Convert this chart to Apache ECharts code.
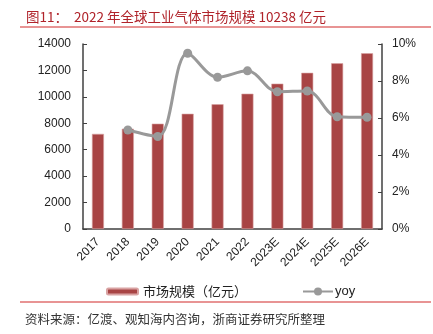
<!DOCTYPE html>
<html>
<head>
<meta charset="utf-8">
<script src="https://cdn.jsdelivr.net/npm/echarts@6/dist/echarts.min.js"></script>
<style>html,body{margin:0;padding:0;background:#fff}#c{width:433px;height:334px}</style>
</head>
<body>
<div id="c"></div>
<script>
const categories = ['2017','2018','2019','2020','2021','2022','2023E','2024E','2025E','2026E'];
const marketSize = [7200, 7590, 7970, 8720, 9440, 10238, 11000, 11820, 12540, 13300];
const yoy = [null, 5.35, 5.0, 9.5, 8.2, 8.55, 7.42, 7.46, 6.07, 6.04];
const leftTicks = [0, 14000, 2000];
const rightTicks = [0, 10, 2];
const titleText = '图11：  2022 年全球工业气体市场规模 10238 亿元';
const sourceText = '资料来源：亿渡、观知海内咨询，浙商证券研究所整理';
const barName = '市场规模（亿元）';
const lineName = 'yoy';

const chart = echarts.init(document.getElementById('c'), null, {renderer: 'canvas'});
const latin = 'Liberation Sans, Arial, sans-serif';
const cjk = '"Noto Sans CJK SC", sans-serif';
chart.setOption({
  animation: false,
  title: [
    {text: titleText, left: 21, top: 5, textStyle: {fontFamily: cjk, fontSize: 13.5, fontWeight: 'normal', color: '#B0232A'}},
    {text: sourceText, left: 20, top: 308, textStyle: {fontFamily: cjk, fontSize: 12.5, fontWeight: 'normal', color: '#333'}}
  ],
  graphic: [
    {type: 'line', shape: {x1: 20, y1: 27, x2: 431, y2: 27}, style: {stroke: '#E07070', lineWidth: 1.5}},
    {type: 'line', shape: {x1: 20, y1: 302, x2: 431, y2: 302}, style: {stroke: '#E07070', lineWidth: 1.5}}
  ],
  grid: {left: 83, right: 51, top: 44, bottom: 105, containLabel: false},
  legend: [
    {data: [barName], left: 101, top: 280, itemWidth: 31, itemHeight: 6, itemGap: 5,
     textStyle: {fontFamily: cjk, fontSize: 13, color: '#222'}},
    {data: [lineName], left: 297, top: 280, itemWidth: 30, itemHeight: 10,
     textStyle: {fontFamily: latin, fontSize: 13, color: '#222', padding: [0, 0, 0, -3]}}
  ],
  xAxis: {
    type: 'category', data: categories, boundaryGap: true,
    axisLine: {lineStyle: {color: '#404040', width: 1.5}},
    axisTick: {inside: true, length: 5, lineStyle: {color: '#404040'}, alignWithLabel: false},
    axisLabel: {rotate: 45, hideOverlap: false, fontFamily: latin, fontSize: 12, color: '#222', margin: 11, interval: 0}
  },
  yAxis: [
    {type: 'value', min: leftTicks[0], max: leftTicks[1], interval: leftTicks[2],
     axisLine: {show: true, lineStyle: {color: '#404040', width: 1.5}},
     axisTick: {show: true, inside: true, length: 4, lineStyle: {color: '#404040'}},
     splitLine: {show: false},
     axisLabel: {fontFamily: latin, fontSize: 12, color: '#222', margin: 12, formatter: function (v) { return String(v); }}},
    {type: 'value', min: rightTicks[0], max: rightTicks[1], interval: rightTicks[2], position: 'right',
     axisLine: {show: true, lineStyle: {color: '#404040', width: 1.5}},
     axisTick: {show: true, inside: true, length: 4, lineStyle: {color: '#404040'}},
     splitLine: {show: false},
     axisLabel: {fontFamily: latin, fontSize: 12, color: '#222', margin: 10, formatter: '{value}%'}}
  ],
  series: [
    {name: barName, type: 'bar', data: marketSize, barWidth: 12, yAxisIndex: 0,
     itemStyle: {color: '#A84444', borderColor: '#D9A3A3', borderWidth: 0.6}},
    {name: lineName, type: 'line', data: yoy, yAxisIndex: 1, smooth: 0.35,
     symbol: 'circle', symbolSize: 9, connectNulls: false,
     lineStyle: {color: '#999999', width: 3}, itemStyle: {color: '#999999'}}
  ]
});
</script>
</body>
</html>
